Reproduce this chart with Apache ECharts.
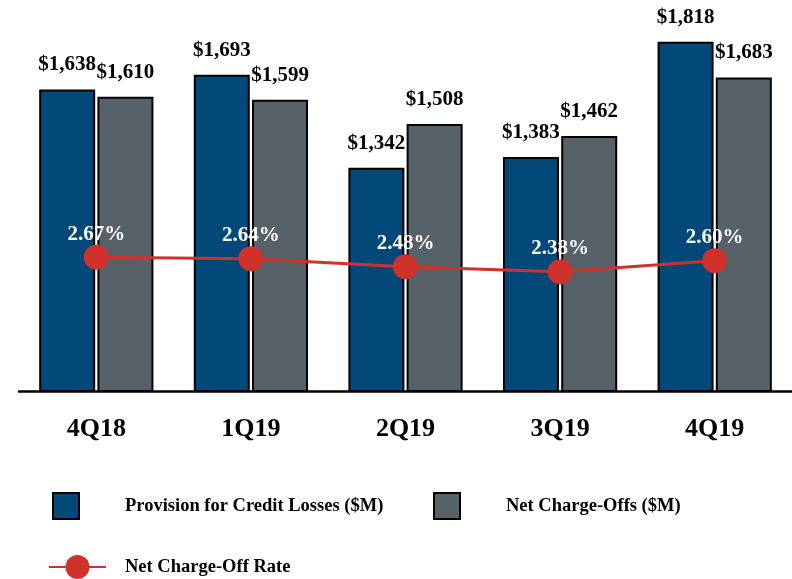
<!DOCTYPE html>
<html>
<head>
<meta charset="utf-8">
<script src="https://cdn.jsdelivr.net/npm/echarts@6/dist/echarts.min.js"></script>
<style>
  html, body { margin: 0; padding: 0; background: #fff; }
  #chart { width: 792px; height: 579px; }
</style>
</head>
<body>
<div id="chart"></div>
<script>
// quarters on the x axis
var quarters = ['4Q18', '1Q19', '2Q19', '3Q19', '4Q19'];
// provision for credit losses, $M
var provision = [1638, 1693, 1342, 1383, 1818];
// net charge-offs, $M
var chargeOffs = [1610, 1599, 1508, 1462, 1683];
// net charge-off rate, %
var chargeOffRate = [2.67, 2.64, 2.48, 2.38, 2.60];

var serif = '"Liberation Serif", "Times New Roman", serif';
var blue = '#02497a';
var gray = '#566168';
var red = '#d0322b';

var chart = echarts.init(document.getElementById('chart'));

var barLabel = {
  show: true,
  position: 'top',
  distance: 14,
  color: '#000',
  fontFamily: serif,
  fontWeight: 'bold',
  fontSize: 21,
  formatter: function (p) {
    return '$' + p.value.toLocaleString('en-US');
  }
};

var legendText = {
  fontFamily: serif,
  fontWeight: 'bold',
  fontSize: 18.5,
  color: '#000',
  padding: [0, 0, 0, 41]
};

var option = {
  animation: false,
  grid: { left: 19, right: 0, top: 20, bottom: 188 },
  legend: [
    {
      data: [{ name: 'Provision for Credit Losses ($M)', icon: 'rect' }],
      left: 52, top: 492, padding: 0,
      itemWidth: 26, itemHeight: 26,
      textStyle: legendText
    },
    {
      data: [{ name: 'Net Charge-Offs ($M)', icon: 'rect' }],
      left: 433, top: 492, padding: 0,
      itemWidth: 26, itemHeight: 26,
      textStyle: legendText
    },
    {
      data: ['Net Charge-Off Rate'],
      left: 48, top: 555, padding: 0,
      itemWidth: 57, itemHeight: 30,
      textStyle: Object.assign({}, legendText, { padding: [0, 0, 0, 14] })
    }
  ],
  xAxis: {
    type: 'category',
    data: quarters,
    axisLine: { lineStyle: { color: '#000', width: 2.5 } },
    axisTick: { show: false },
    axisLabel: {
      margin: 25,
      color: '#000',
      fontFamily: serif,
      fontWeight: 'bold',
      fontSize: 26
    }
  },
  yAxis: [
    { type: 'value', min: 500, max: 1900, show: false, splitLine: { show: false } },
    { type: 'value', min: 0, max: 7.4, show: false, splitLine: { show: false } }
  ],
  series: [
    {
      name: 'Provision for Credit Losses ($M)',
      type: 'bar',
      data: provision,
      barWidth: 56,
      barGap: '4%',
      itemStyle: { color: blue, borderColor: '#000', borderWidth: 2 },
      label: barLabel
    },
    {
      name: 'Net Charge-Offs ($M)',
      type: 'bar',
      data: chargeOffs,
      barWidth: 56,
      barGap: '4%',
      itemStyle: { color: gray, borderColor: '#000', borderWidth: 2 },
      label: barLabel
    },
    {
      name: 'Net Charge-Off Rate',
      type: 'line',
      yAxisIndex: 1,
      data: chargeOffRate,
      symbol: 'circle',
      symbolSize: 25,
      z: 5,
      lineStyle: { color: red, width: 3 },
      itemStyle: { color: red },
      label: {
        show: true,
        position: 'top',
        distance: 0,
        color: '#fff',
        fontFamily: serif,
        fontWeight: 'bold',
        fontSize: 21,
        formatter: function (p) {
          return p.value.toFixed(2) + '%';
        }
      }
    }
  ]
};

chart.setOption(option);
</script>
</body>
</html>
